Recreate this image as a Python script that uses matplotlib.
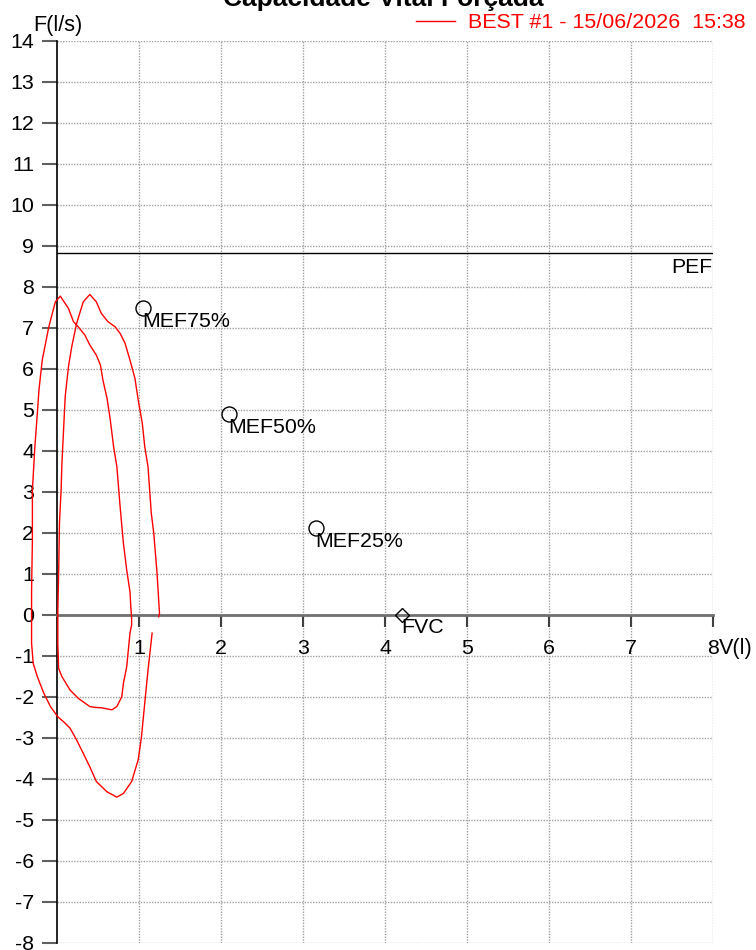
import matplotlib
matplotlib.use("Agg")
import matplotlib.pyplot as plt

plt.rcParams['font.family'] = ['Liberation Sans', 'DejaVu Sans']
plt.rcParams['axes.unicode_minus'] = False

# ---- data ----
title = "Capacidade Vital Forçada"
legend_label = "BEST #1 - 15/06/2026  15:38"

volume = [1.16, 1.11, 1.07, 1.03, 0.99, 0.91, 0.81, 0.73, 0.61, 0.48, 0.40, 0.32,
          0.24, 0.16, 0.08, 0.01, -0.08, -0.16, -0.24, -0.29, -0.31, -0.31, -0.31,
          -0.30, -0.30, -0.27, -0.24, -0.22, -0.18, -0.10, -0.02, 0.04, 0.14, 0.20,
          0.26, 0.34, 0.40, 0.48, 0.53, 0.56, 0.61, 0.65, 0.69, 0.73, 0.77, 0.81,
          0.85, 0.89, 0.90, 0.91, 0.91, 0.89, 0.85, 0.81, 0.79, 0.73, 0.67, 0.54,
          0.46, 0.40, 0.26, 0.16, 0.06, 0.02, 0.01, 0.01, 0.02, 0.03, 0.05, 0.06,
          0.07, 0.10, 0.14, 0.18, 0.24, 0.32, 0.40, 0.48, 0.54, 0.62, 0.71, 0.77,
          0.83, 0.89, 0.95, 0.99, 1.04, 1.07, 1.11, 1.15, 1.18, 1.22, 1.25, 1.24]
flow = [-0.45, -1.35, -2.16, -2.98, -3.54, -4.07, -4.36, -4.45, -4.32, -4.07, -3.71, -3.38,
        -3.06, -2.77, -2.61, -2.49, -2.24, -1.92, -1.51, -1.19, -0.70, 0.11, 0.60,
        1.82, 3.04, 4.10, 4.91, 5.48, 6.21, 7.02, 7.63, 7.77, 7.47, 7.15,
        7.02, 6.82, 6.58, 6.33, 6.09, 5.72, 5.28, 4.75, 4.10, 3.61, 2.63, 1.74,
        1.09, 0.56, 0.20, -0.10, -0.25, -0.45, -1.27, -1.67, -2.00, -2.24, -2.32, -2.27,
        -2.26, -2.24, -2.04, -1.84, -1.51, -1.31, -0.70, 0.11, 1.01, 2.23, 3.04, 3.69,
        4.10, 5.32, 6.05, 6.54, 7.11, 7.63, 7.81, 7.63, 7.35, 7.15, 7.02, 6.86,
        6.62, 6.21, 5.77, 5.24, 4.67, 4.10, 3.61, 2.47, 1.99, 1.01, 0.03, -0.05]

pef = 8.81
mef_names = ["MEF75%", "MEF50%", "MEF25%"]
mef_vol = [1.05, 2.10, 3.16]
mef_flow = [7.49, 4.90, 2.12]
fvc_vol = 4.21
fvc_flow = 0.0

x_ticks = [1, 2, 3, 4, 5, 6, 7, 8]
x_ticklabels = ["1", "2", "3", "4", "5", "6", "7", "8"]
y_ticks = list(range(-8, 15))
y_ticklabels = [str(v) for v in y_ticks]

# ---- figure ----
W, H = 756, 950
fig = plt.figure(figsize=(W / 100, H / 100), dpi=100)
ax = fig.add_axes([57 / W, (H - 942.7) / H, (713 - 57) / W, (942.7 - 40.7) / H])
ax.set_xlim(0, 8)
ax.set_ylim(-8, 14)

ax.set_xticks(x_ticks)
ax.set_xticklabels(x_ticklabels)
ax.set_yticks(y_ticks)
ax.set_yticklabels(y_ticklabels)

ax.grid(True, color='#a0a0a0', linestyle=(0, (1, 1)), linewidth=1.0, zorder=0)
ax.set_axisbelow(True)

for s in ['top', 'right']:
    ax.spines[s].set_visible(False)
ax.spines['left'].set_color('black')
ax.spines['left'].set_linewidth(1.2)
ax.spines['bottom'].set_position(('data', 0))
ax.spines['bottom'].set_color('#707070')
ax.spines['bottom'].set_linewidth(2)

ax.tick_params(axis='x', direction='out', length=8.6, width=1.5, color='#404040',
               labelsize=15.4, pad=9)
ax.tick_params(axis='y', direction='out', length=10.8, width=1.5, color='#606060',
               labelsize=15.4, pad=5.5)

# PEF line
ax.axhline(pef, color='black', linewidth=1.0, zorder=2)
ax.annotate("PEF", xy=(8, pef), xytext=(-1, -20), textcoords='offset pixels',
            ha='right', va='baseline', fontsize=15.2, annotation_clip=False)

# curve
ax.plot(volume, flow, color='red', linewidth=1.0, clip_on=False, zorder=3,
        label=legend_label)

# MEF points
ax.plot(mef_vol, mef_flow, linestyle='none', marker='o', markersize=10.8,
        markerfacecolor='none', markeredgecolor='black', markeredgewidth=1.0, zorder=4)
for name, xv, yv in zip(mef_names, mef_vol, mef_flow):
    ax.annotate(name, xy=(xv, yv), xytext=(-1, -19), textcoords='offset pixels',
                ha='left', va='baseline', fontsize=15.4, annotation_clip=False)

ax.plot([fvc_vol], [fvc_flow], linestyle='none', marker='D', markersize=7.5,
        markerfacecolor='none', markeredgecolor='black', markeredgewidth=1.0, zorder=4)
ax.annotate("FVC", xy=(fvc_vol, fvc_flow), xytext=(-1, -18), textcoords='offset pixels',
            ha='left', va='baseline', fontsize=15.4, annotation_clip=False)

# axis labels
ax.annotate("V(l)", xy=(8, 0), xytext=(6, -39), textcoords='offset pixels',
            ha='left', va='baseline', fontsize=15.6, annotation_clip=False)
ax.annotate("F(l/s)", xy=(0, 14), xytext=(-24, 9.5), textcoords='offset pixels',
            ha='left', va='baseline', fontsize=15.6, annotation_clip=False)

# title (partially cut at top)
fig.text(383 / W, 1 - 6 / H, title, ha='center', va='baseline',
         fontsize=19, fontweight='bold')

# legend
leg = ax.legend(loc='center right', bbox_to_anchor=(746 / W, 1 - 22.7 / H),
                bbox_transform=fig.transFigure, frameon=False, borderpad=0,
                borderaxespad=0, handlelength=1.82, handletextpad=0.65,
                fontsize=15.4, labelcolor='red')

fig.savefig("out.png", dpi=100)
